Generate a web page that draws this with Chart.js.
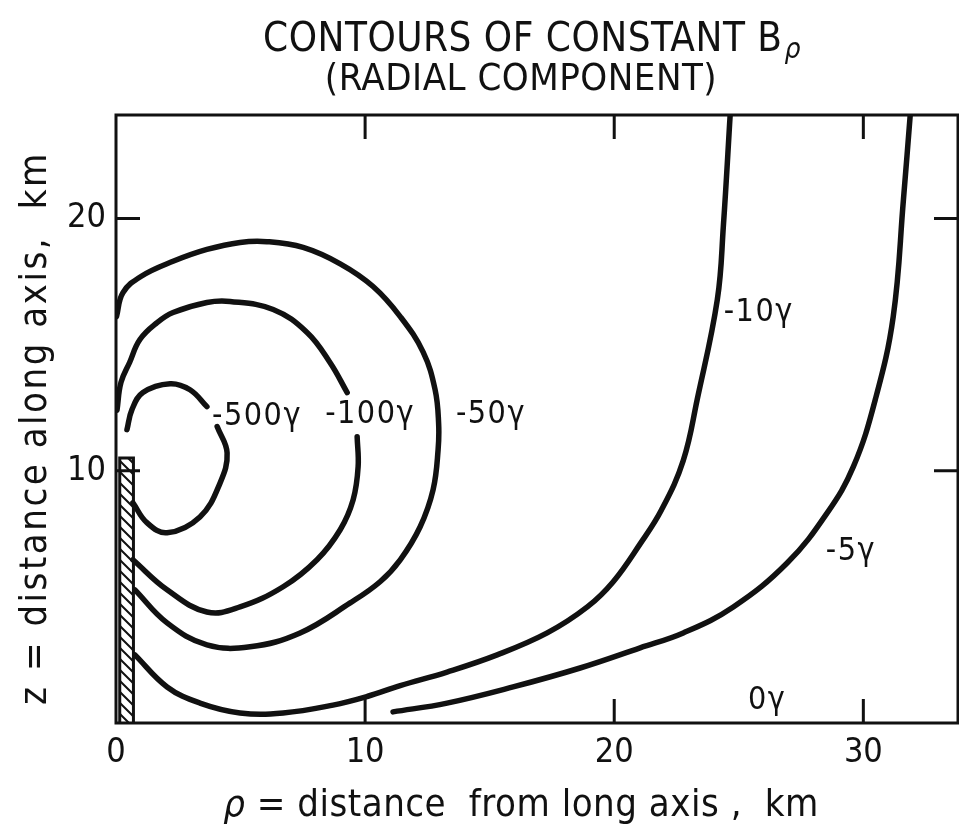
<!DOCTYPE html>
<html>
<head>
<meta charset="utf-8">
<title>Contours of constant B rho</title>
<script src="https://cdn.jsdelivr.net/npm/chart.js@4.4.1/dist/chart.umd.min.js"></script>
<style>
  html, body { margin: 0; padding: 0; background: #fff; }
  #wrap { width: 959px; height: 836px; }
</style>
</head>
<body>
<div id="wrap"><canvas id="contourChart" width="959" height="836"></canvas></div>
<script>
// axis ticks, km
const rhoTicks = [0, 10, 20, 30];
const zTicks = [10, 20];
const rhoMax = 33.8;
const zMax = 24.1;

// contour lines, [rho, z] in km
const contour500a = [[0.44, 11.63], [0.64, 12.42], [1.08, 13.10], [2.17, 13.45], [2.97, 13.21], [3.65, 12.54]];
const contour500b = [[4.06, 11.75], [4.46, 10.71], [4.18, 9.52], [3.37, 8.17], [2.05, 7.54], [1.24, 7.94], [0.68, 8.73]];
const contour100a = [[0.04, 12.4], [0.2, 13.5], [0.55, 14.3], [0.96, 15.2], [1.65, 15.87], [2.29, 16.27], [3.65, 16.67],
  [4.58, 16.71], [6.31, 16.39], [7.67, 15.48], [8.59, 14.29], [9.28, 13.1]];
const contour100b = [[9.68, 11.35], [9.72, 10.16], [9.52, 8.85], [9.0, 7.66], [8.07, 6.47], [6.71, 5.40], [4.98, 4.60],
  [3.65, 4.40], [2.05, 5.28], [0.68, 6.47]];
const contour50 = [[0.02, 16.11], [0.28, 17.06], [1.0, 17.7], [2.29, 18.3], [3.65, 18.77], [4.98, 19.05],
  [6.06, 19.08], [7.51, 18.85], [9.0, 18.2], [10.32, 17.3], [11.41, 16.11], [12.33, 14.7], [12.81, 13.21],
  [12.95, 11.9], [12.93, 10.83], [12.73, 9.25], [12.21, 7.78], [11.41, 6.47], [10.6, 5.6], [9.40, 4.76],
  [7.39, 3.57], [5.38, 3.02], [3.65, 3.10], [2.05, 3.97], [0.76, 5.28]];
const contour10 = [[0.76, 2.70], [2.05, 1.43], [3.37, 0.79], [4.98, 0.40], [6.71, 0.40], [8.71, 0.71], [10.08, 1.05],
  [11.41, 1.48], [13.29, 2.02], [15.30, 2.70], [17.31, 3.57], [18.92, 4.60], [19.96, 5.6], [21.04, 7.1],
  [21.9, 8.45], [22.77, 10.4], [23.33, 12.82], [24.14, 16.79], [24.38, 19.68], [24.66, 24.2]];
const contour5 = [[11.12, 0.44], [13.29, 0.79], [15.94, 1.43], [18.63, 2.18], [21.04, 2.98], [22.77, 3.57],
  [24.78, 4.60], [26.95, 6.35], [28.55, 8.33], [29.6, 10.16], [30.48, 12.82], [31.2, 16.11], [31.61, 20.75], [31.89, 24.2]];

// contour labels
const labelText = ['-500\u03B3', '-100\u03B3', '-50\u03B3', '-10\u03B3', '-5\u03B3', '0\u03B3'];
const labelRho = [5.66, 10.2, 15.05, 25.8, 29.5, 26.14];
const labelZ = [12.14, 12.22, 12.22, 16.27, 6.8, 0.87];

// hatched strip along the axis
const stripRho = [0.15, 0.15, 0.7, 0.7];
const stripZ = [0, 10.5, 10.5, 0];

const ink = '#111';
const face = '"DejaVu Sans Condensed", "Liberation Sans Narrow", "DejaVu Sans", sans-serif';

function hatch() {
  const c = document.createElement('canvas');
  c.width = 11; c.height = 11;
  const g = c.getContext('2d');
  g.strokeStyle = ink;
  g.lineWidth = 2;
  g.beginPath();
  g.moveTo(-2, -2); g.lineTo(13, 13);
  g.moveTo(-2, 9); g.lineTo(2, 13);
  g.moveTo(9, -2); g.lineTo(13, 2);
  g.stroke();
  return g.createPattern(c, 'repeat');
}

function line(pts) {
  return {
    data: pts.map(p => ({ x: p[0], y: p[1] })),
    showLine: true,
    borderColor: ink,
    borderWidth: 5.5,
    borderCapStyle: 'round',
    pointRadius: 0,
    tension: 0.4,
    fill: false
  };
}

const datasets = [contour500a, contour500b, contour100a, contour100b, contour50, contour10, contour5].map(line);
datasets.push({
  data: stripRho.map((x, i) => ({ x: x, y: stripZ[i] })),
  showLine: true,
  borderColor: ink,
  borderWidth: 3,
  pointRadius: 0,
  tension: 0,
  fill: 'origin',
  backgroundColor: hatch()
});

// frame, inward ticks, titles and contour labels
const decorations = {
  id: 'decorations',
  afterDraw(chart) {
    const ctx = chart.ctx;
    const a = chart.chartArea;
    const xs = chart.scales.x, ys = chart.scales.y;
    ctx.save();
    ctx.strokeStyle = ink;
    ctx.fillStyle = ink;
    ctx.lineWidth = 3;
    ctx.strokeRect(a.left, a.top, a.right - a.left, a.bottom - a.top);

    const len = 24;
    ctx.beginPath();
    rhoTicks.filter(v => v > 0).forEach(v => {
      const px = xs.getPixelForValue(v);
      ctx.moveTo(px, a.bottom); ctx.lineTo(px, a.bottom - len);
      ctx.moveTo(px, a.top); ctx.lineTo(px, a.top + len);
    });
    zTicks.forEach(v => {
      const py = ys.getPixelForValue(v);
      ctx.moveTo(a.left, py); ctx.lineTo(a.left + len, py);
      ctx.moveTo(a.right, py); ctx.lineTo(a.right - len, py);
    });
    ctx.stroke();

    // contour labels
    ctx.font = '32px ' + face;
    ctx.letterSpacing = '1.5px';
    ctx.textAlign = 'center';
    ctx.textBaseline = 'middle';
    labelText.forEach((t, i) => {
      ctx.fillText(t, xs.getPixelForValue(labelRho[i]), ys.getPixelForValue(labelZ[i]));
    });

    // title
    ctx.textBaseline = 'alphabetic';
    ctx.textAlign = 'left';
    ctx.letterSpacing = '0.5px';
    ctx.font = '40px ' + face;
    const t1 = 'CONTOURS OF CONSTANT B';
    const w1 = ctx.measureText(t1).width;
    ctx.font = 'italic 28px ' + face;
    const ws = ctx.measureText('\u03C1').width;
    const x0 = 532 - (w1 + ws + 2) / 2;
    ctx.font = '40px ' + face;
    ctx.fillText(t1, x0, 51);
    ctx.font = 'italic 28px ' + face;
    ctx.fillText('\u03C1', x0 + w1 + 2, 58);
    ctx.font = '38px ' + face;
    ctx.textAlign = 'center';
    ctx.fillText('(RADIAL COMPONENT)', 521, 90);

    // x axis title
    ctx.letterSpacing = '0.5px';
    ctx.font = '38px ' + face;
    const xt = ' = distance  from long axis ,  km';
    const wx = ctx.measureText(xt).width;
    ctx.font = 'italic 38px ' + face;
    const wr = ctx.measureText('\u03C1').width;
    const sx = 521 - (wx + wr) / 2;
    ctx.textAlign = 'left';
    ctx.fillText('\u03C1', sx, 816);
    ctx.font = '38px ' + face;
    ctx.fillText(xt, sx + wr, 816);

    // y axis title
    ctx.letterSpacing = '2.5px';
    ctx.translate(46, 428);
    ctx.rotate(-Math.PI / 2);
    ctx.textAlign = 'center';
    ctx.fillText('z = distance along axis,  km', 0, 0);
    ctx.restore();
  }
};

const ctx = document.getElementById('contourChart').getContext('2d');
const contourChart = new Chart(ctx, {
  type: 'scatter',
  data: { datasets: datasets },
  options: {
    responsive: false,
    animation: false,
    events: [],
    devicePixelRatio: 1,
    layout: { padding: { top: 115, right: 1, left: 0, bottom: 0 } },
    plugins: { legend: { display: false }, tooltip: { enabled: false }, title: { display: false } },
    scales: {
      x: {
        type: 'linear', min: 0, max: rhoMax,
        grid: { display: false, drawTicks: false },
        border: { display: false },
        afterBuildTicks: s => { s.ticks = rhoTicks.map(v => ({ value: v })); },
        afterFit: s => { s.height = 113; },
        ticks: { color: ink, padding: 10, font: { family: face, size: 34 } }
      },
      y: {
        type: 'linear', min: 0, max: zMax,
        grid: { display: false, drawTicks: false },
        border: { display: false },
        afterBuildTicks: s => { s.ticks = zTicks.map(v => ({ value: v })); },
        afterFit: s => { s.width = 116; },
        ticks: { color: ink, padding: 10, font: { family: face, size: 34 } }
      }
    }
  },
  plugins: [decorations]
});
</script>
</body>
</html>
